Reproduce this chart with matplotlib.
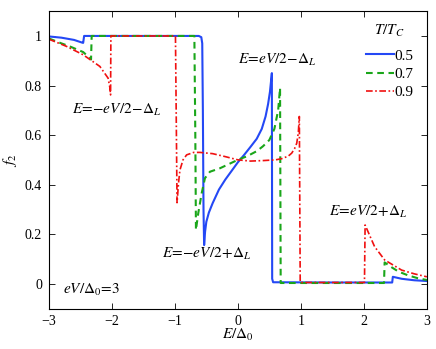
import matplotlib
matplotlib.use("Agg")
import matplotlib.pyplot as plt

plt.rcParams['font.family'] = ['Liberation Serif', 'DejaVu Serif']
plt.rcParams['mathtext.fontset'] = 'stix'

# T/Tc = 0.5
x05 = [-3.0, -2.8, -2.6, -2.47, -2.455, -2.44, -1.5, -0.62, -0.58, -0.565, -0.555, -0.545, -0.535,
       -0.52, -0.5, -0.46, -0.4, -0.3, -0.2, -0.1, 0.0, 0.1, 0.2, 0.3, 0.38, 0.44, 0.48, 0.51, 0.53, 0.54,
       0.545, 0.56, 1.5, 2.45, 2.46, 2.6, 2.8, 3.0]
y05 = [0.998, 0.993, 0.984, 0.973, 0.972, 1.0, 1.0, 1.0, 0.995, 0.97, 0.7, 0.3, 0.156,
       0.21, 0.25, 0.287, 0.325, 0.38, 0.42, 0.455, 0.49, 0.52, 0.552, 0.585, 0.625, 0.675, 0.725, 0.775, 0.825, 0.85,
       0.02, 0.006, 0.005, 0.005, 0.028, 0.02, 0.014, 0.011]

# T/Tc = 0.7
x07 = [-3.0, -2.8, -2.67, -2.455, -2.35, -2.33, -2.32, -1.5, -0.69, -0.675, -0.665,
       -0.628, -0.574, -0.522, -0.443, -0.284, -0.15, 0.0, 0.15, 0.3, 0.4, 0.5, 0.58, 0.64, 0.67,
       0.68, 0.7, 1.5, 2.32, 2.33, 2.45, 2.55, 2.7, 2.86, 3.0]
y07 = [0.99, 0.97, 0.958, 0.935, 0.911, 0.905, 1.0, 1.0, 1.0, 0.6, 0.217,
       0.285, 0.365, 0.426, 0.452, 0.466, 0.482, 0.5, 0.515, 0.535, 0.555, 0.58, 0.625, 0.7, 0.79,
       0.003, 0.003, 0.003, 0.003, 0.086, 0.065, 0.049, 0.034, 0.022, 0.015]

# T/Tc = 0.9
x09 = [-3.0, -2.72, -2.455, -2.19, -2.06, -2.03, -2.02, -2.015, -1.5, -0.99, -0.975, -0.965,
       -0.94, -0.919, -0.87, -0.813, -0.7, -0.6, -0.4, -0.2, 0.0, 0.2, 0.4, 0.6, 0.7, 0.8, 0.855,
       0.9, 0.935, 0.96, 0.976, 0.99, 1.0, 1.5, 2.01, 2.02, 2.17, 2.33, 2.6, 2.8, 3.0]
y09 = [0.987, 0.958, 0.924, 0.877, 0.83, 0.79, 0.762, 1.0, 1.0, 1.0, 0.6, 0.327,
       0.41, 0.459, 0.5, 0.52, 0.53, 0.53, 0.525, 0.513, 0.5, 0.495, 0.497, 0.5, 0.505, 0.515, 0.527,
       0.545, 0.567, 0.61, 0.675, 0.005, 0.005, 0.005, 0.005, 0.237, 0.15, 0.096, 0.055, 0.04, 0.028]

labels = ['0.5', '0.7', '0.9']
xticks = [-3, -2, -1, 0, 1, 2, 3]
yticks = [0, 0.2, 0.4, 0.6, 0.8, 1]

fig = plt.figure(figsize=(4.36, 3.49), dpi=100)
ax = fig.add_axes([0.112, 0.116, 0.867, 0.852])

ax.plot(x05, y05, color='#2448f5', lw=1.5, ls='-', label=labels[0])
ax.plot(x07, y07, color='#1aa61a', lw=1.5, ls=(0, (3.2, 2.2)), label=labels[1])
ax.plot(x09, y09, color='#f01010', lw=1.2, ls=(0, (4, 1.5, 1, 1.5)), label=labels[2])

ax.set_xlim(-3, 3)
ax.set_ylim(-0.1, 1.1)
ax.set_xticks(xticks)
ax.set_xticklabels([str(t).replace('-', '\u2212') for t in xticks])
ax.set_yticks(yticks)
ax.set_yticklabels(['0', '0.2', '0.4', '0.6', '0.8', '1'])
ax.tick_params(direction='in', top=True, right=True, length=4, width=0.6, labelsize=10, pad=5)
for s in ax.spines.values():
    s.set_linewidth(0.8)

ax.set_xlabel(r'$E/\Delta_0$', fontsize=11, labelpad=-1)
ax.set_ylabel(r'$f_2$', fontsize=11, labelpad=4)

fs = 11
ax.text(-2.63, 0.70, r'$E\!=\!{-}eV/2\!-\!\Delta_L$', fontsize=fs, va='center', ha='left')
ax.text(0.0, 0.905, r'$E\!=\!eV/2\!-\!\Delta_L$', fontsize=fs, va='center', ha='left')
ax.text(-1.21, 0.12, r'$E\!=\!{-}eV/2\!+\!\Delta_L$', fontsize=fs, va='center', ha='left')
ax.text(1.45, 0.29, r'$E\!=\!eV/2\!+\!\Delta_L$', fontsize=fs, va='center', ha='left')
ax.text(-2.77, -0.025, r'$eV/\Delta_0\!=\!3$', fontsize=fs, va='center', ha='left')

leg = ax.legend(title=r'$T/T_C$', loc='upper right', bbox_to_anchor=(0.965, 0.96), frameon=False,
                fontsize=11, title_fontsize=11, handlelength=1.85, handletextpad=0.05,
                labelspacing=0.3, borderaxespad=0.0, borderpad=0.0)
leg._legend_box.sep = 7

fig.savefig('out.png', dpi=100)
